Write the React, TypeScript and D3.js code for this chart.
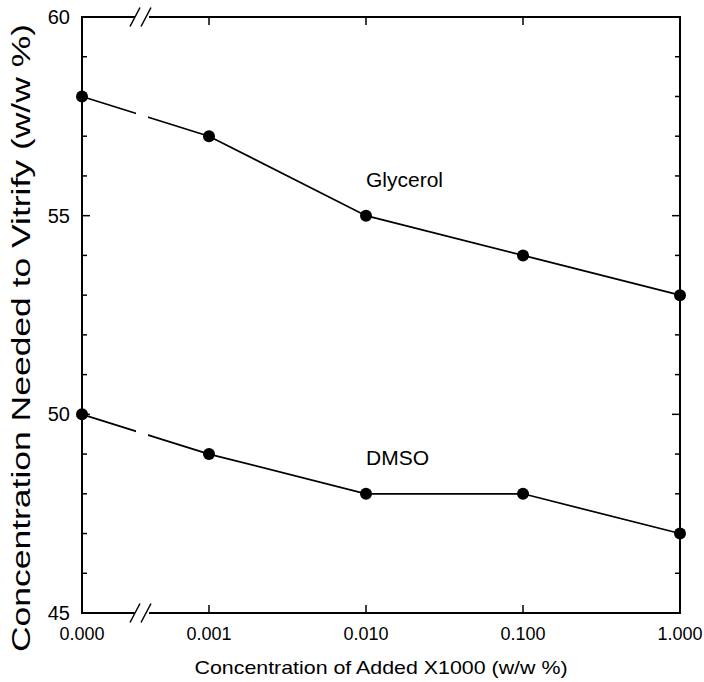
import React from "react";
import * as d3 from "d3";

// categories on the x axis (0 sits left of the axis break, the rest on a log scale)
const concentrations = [0, 0.001, 0.01, 0.1, 1];
const xTickLabels = ["0.000", "0.001", "0.010", "0.100", "1.000"];

const glycerol = [58, 57, 55, 54, 53];
const dmso = [50, 49, 48, 48, 47];

const yMajorTicks = [45, 50, 55, 60];
const yMinorTicks = d3.range(45, 61, 1);

const seriesLabels = [
  { name: "Glycerol", x: 0.01, y: 55.9 },
  { name: "DMSO", x: 0.01, y: 48.9 },
];

const W = 704;
const H = 682;
const margin = { top: 17, right: 24, bottom: 69, left: 82 };
const font = "Arial, 'Liberation Sans', Helvetica, sans-serif";

export default function App() {
  const left = margin.left;
  const right = W - margin.right;
  const top = margin.top;
  const bottom = H - margin.bottom;

  const zeroGap = 127; // distance between the 0.000 position and the 0.001 tick
  const xLog = d3.scaleLog().domain([0.001, 1]).range([left + zeroGap, right]);
  const x = (v: number) => (v === 0 ? left : xLog(v));
  const y = d3.scaleLinear().domain([45, 60]).range([bottom, top]);

  // axis break
  const b1 = 137;
  const b2 = 147;

  const line = d3
    .line<number>()
    .x((_, i) => x(concentrations[i]))
    .y((d) => y(d));

  const slash = (cx: number, cy: number) => `M${cx - 5},${cy + 9.5}L${cx + 5},${cy - 9.5}`;

  return (
    <div style={{ position: "absolute", left: 0, top: 0 }}>
      <svg width={W} height={H} style={{ display: "block", background: "#fff" }}>
        <defs>
          <clipPath id="brk">
            <rect x={0} y={0} width={b1 - 1} height={H} />
            <rect x={b2 + 1} y={0} width={W - b2} height={H} />
          </clipPath>
        </defs>

        {/* frame */}
        <g stroke="#000" strokeWidth={2} fill="none">
          <line x1={left} y1={top - 1} x2={left} y2={bottom + 1} />
          <line x1={right} y1={top - 1} x2={right} y2={bottom + 1} />
          <line x1={left} y1={top} x2={b1 - 2} y2={top} />
          <line x1={b2 + 2} y1={top} x2={right} y2={top} />
          <line x1={left} y1={bottom} x2={b1 - 2} y2={bottom} />
          <line x1={b2 + 2} y1={bottom} x2={right} y2={bottom} />
          <path d={slash(b1 - 2, top) + slash(b2 - 1, top)} strokeWidth={1.5} />
          <path d={slash(b1 - 2, bottom) + slash(b2 - 1, bottom)} strokeWidth={1.5} />
        </g>

        {/* y ticks */}
        <g stroke="#000" strokeWidth={1.5}>
          {yMinorTicks.map((t) => {
            const len = yMajorTicks.includes(t) ? 8 : 5;
            return (
              <g key={t}>
                <line x1={left} x2={left + len} y1={y(t)} y2={y(t)} />
                <line x1={right} x2={right - len} y1={y(t)} y2={y(t)} />
              </g>
            );
          })}
        </g>
        <g fontFamily={font} fontSize={20} textAnchor="end">
          {yMajorTicks.map((t) => (
            <text key={t} x={left - 12} y={y(t)} dy="0.35em">
              {t}
            </text>
          ))}
        </g>

        {/* x ticks */}
        <g stroke="#000" strokeWidth={1.5}>
          {concentrations.slice(1, -1).map((c) => (
            <g key={c}>
              <line x1={x(c)} x2={x(c)} y1={bottom} y2={bottom - 8} />
              <line x1={x(c)} x2={x(c)} y1={top} y2={top + 8} />
            </g>
          ))}
        </g>
        <g fontFamily={font} fontSize={18} textAnchor="middle">
          {concentrations.map((c, i) => (
            <text key={c} x={x(c)} y={bottom + 27}>
              {xTickLabels[i]}
            </text>
          ))}
        </g>

        {/* series */}
        <g clipPath="url(#brk)" fill="none" stroke="#000" strokeWidth={1.7}>
          <path d={line(glycerol) || ""} />
          <path d={line(dmso) || ""} />
        </g>
        <g fill="#000">
          {[glycerol, dmso].map((s, si) =>
            s.map((v, i) => <circle key={si + "-" + i} cx={x(concentrations[i])} cy={y(v)} r={6} />)
          )}
        </g>
        <g fontFamily={font} fontSize={21}>
          {seriesLabels.map((l) => (
            <text key={l.name} x={x(l.x)} y={y(l.y)} dy="0.35em">
              {l.name}
            </text>
          ))}
        </g>

        {/* axis titles */}
        <text
          fontFamily={font}
          fontSize={19}
          textAnchor="middle"
          x={381}
          y={674}
          textLength={373}
          lengthAdjust="spacingAndGlyphs"
        >
          Concentration of Added X1000 (w/w %)
        </text>
        <text
          fontFamily={font}
          fontSize={25}
          textAnchor="middle"
          transform={`translate(30,${338}) rotate(-90)`}
          textLength={628}
          lengthAdjust="spacingAndGlyphs"
        >
          Concentration Needed to Vitrify  (w/w %)
        </text>
      </svg>
    </div>
  );
}
